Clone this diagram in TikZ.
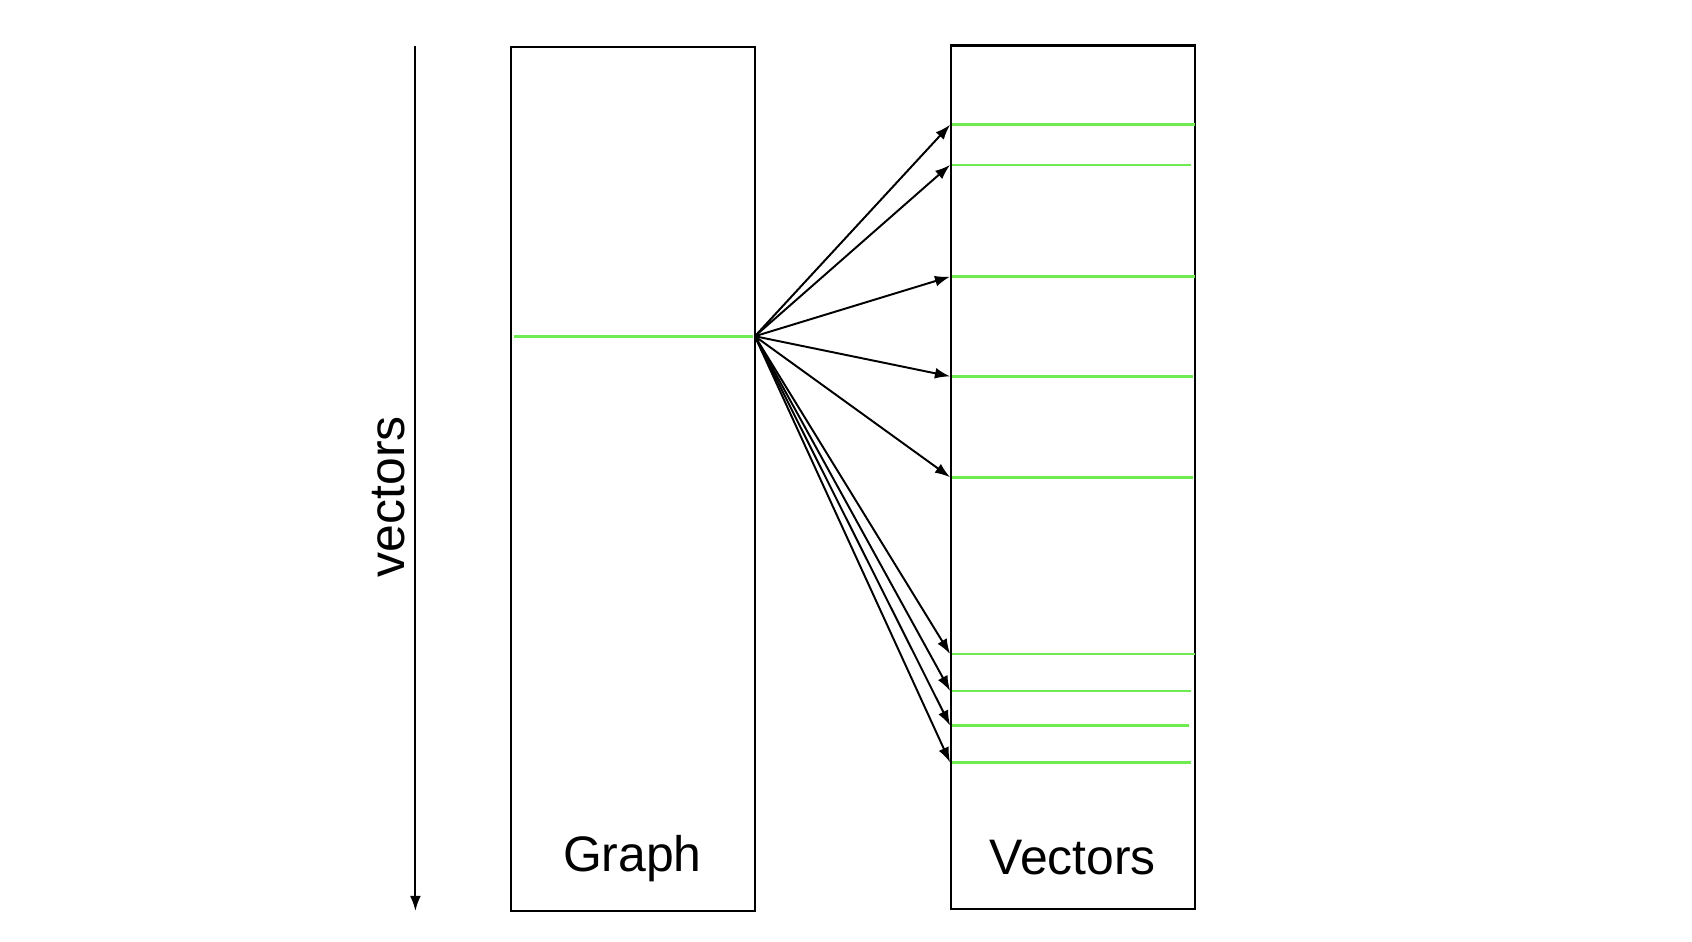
\documentclass[tikz,border=0pt]{standalone}
\usepackage{fontspec}
\setmainfont{Liberation Sans}
\usetikzlibrary{arrows.meta}
\begin{document}
\begin{tikzpicture}[x=0.5pt,y=-0.5pt,
  box/.style={draw,line width=1pt},
  grn/.style={draw={rgb,255:red,110;green,235;blue,80},line width=1.2pt},
  arr/.style={line width=0.9pt,-{Latex[length=7pt,width=5pt]}},
  lbl/.style={font=\fontsize{23}{26}\selectfont}]
\useasboundingbox (0,0) rectangle (1560,868);
\coordinate (at) at (383,42); \coordinate (ab) at (383,840);
\draw[arr] (at) -- (ab);
\node[lbl,rotate=90] (vl) at (358,458) {vectors};
\draw[box] (471,43) rectangle (696,840);
\draw[box] (877,42) rectangle (1102,838);
\node[lbl] (g) at (583,792) {Graph};
\node[lbl] (v) at (989,791) {Vectors};
\draw[grn] (474,310) -- (694,310);
\coordinate (src) at (696,310);
\foreach \y/\e in {115/1102,152/1098,255/1102,347/1100,440/1100,603/1102,637/1098,669/1096,703/1098}{
  \draw[grn] (878,\y) -- (\e,\y);
  \coordinate (t\y) at (876,\y);
  \draw[arr] (src) -- (t\y);
}
\end{tikzpicture}
\end{document}
